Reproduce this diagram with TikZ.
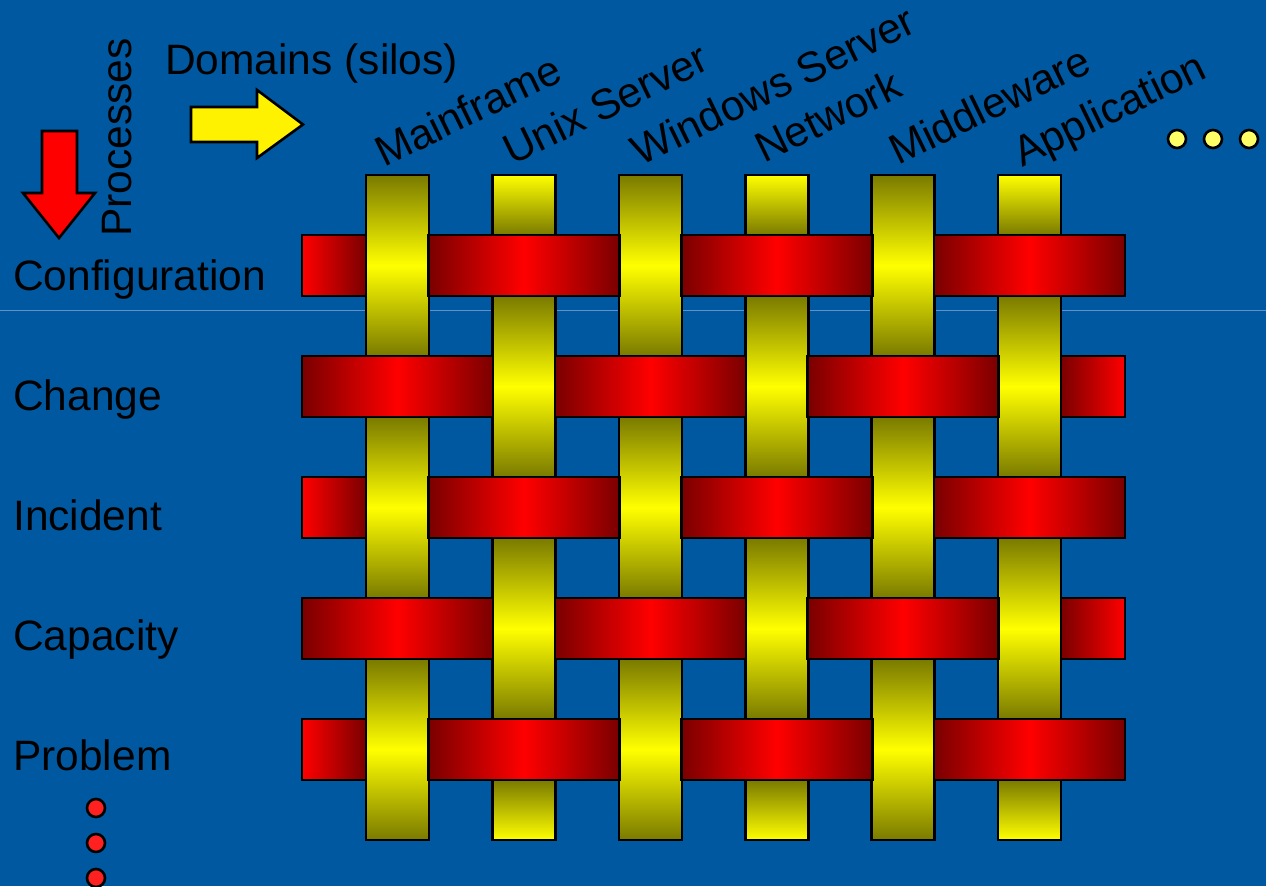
\documentclass[tikz,border=0pt]{standalone}
\usepackage{fontspec}
\setmainfont{Liberation Sans}
\usepackage{tikz}
\usetikzlibrary{positioning}

\definecolor{slidebg}{RGB}{0,88,160}
\definecolor{hairline}{RGB}{95,145,200}
\definecolor{darkred}{RGB}{122,0,0}
\definecolor{darkyel}{RGB}{122,122,0}
\definecolor{dotyel}{RGB}{255,255,102}
\definecolor{dotred}{RGB}{255,32,32}

\begin{document}
\begin{tikzpicture}[
    x=1pt, y=-1pt,
    lbl/.style={font=\fontsize{42.5}{48}\selectfont, text=black, inner sep=0pt},
    rowlbl/.style={lbl, anchor=base west},
    collbl/.style={lbl, anchor=base west, rotate=26},
    piece/.style={draw=black, line width=2.6pt},
    redfull/.style={piece, left color=darkred, right color=darkred, middle color=red},
    redin/.style={piece, left color=red, right color=darkred},
    redout/.style={piece, left color=darkred, right color=red},
    yelfull/.style={piece, top color=darkyel, bottom color=darkyel, middle color=yellow},
    yeltop/.style={piece, top color=yellow, bottom color=darkyel},
    yelbot/.style={piece, top color=darkyel, bottom color=yellow},
    bigarrow/.style={draw=black, line width=2.6pt},
    dotmark/.style={circle, draw=black, line width=2.6pt, minimum size=18pt, inner sep=0pt}
]
    % === BACKGROUND ===
    \fill[slidebg] (0,0) rectangle (1266,886);
    \useasboundingbox (0,0) rectangle (1266,886);
    \draw[hairline, line width=1pt] (0,310) -- (1266,310);

    % === HEADINGS ===
    \node[lbl, anchor=base west] (domains) at (165,74) {Domains (silos)};
    \node[lbl, anchor=base west, rotate=90] (processes) at (131,237) {Processes};
    \draw[bigarrow, fill=yellow] (191,107) -- (257,107) -- (257,90) -- (303,124.5)
        -- (257,158) -- (257,142) -- (191,142) -- cycle;
    \draw[bigarrow, fill=red] (42,131) -- (77,131) -- (77,193) -- (95,193)
        -- (59,238) -- (23,193) -- (42,193) -- cycle;

    % === DOMAINS ===
    \node[collbl] (mainframe) at (384,168) {Mainframe};
    \node[collbl] (unix) at (512,166) {Unix Server};
    \node[collbl] (windows) at (640,167) {Windows Server};
    \node[collbl] (network) at (764,164) {Network};
    \node[collbl] (middleware) at (898,166) {Middleware};
    \node[collbl] (application) at (1022,168) {Application};
    \node[dotmark, fill=dotyel] (more1) at (1177,139) {};
    \node[dotmark, fill=dotyel] (more2) at (1213,139) {};
    \node[dotmark, fill=dotyel] (more3) at (1249,139) {};

    % === PROCESSES ===
    \node[rowlbl] (config) at (13,290) {Configuration};
    \node[rowlbl] (change) at (13,410) {Change};
    \node[rowlbl] (incident) at (13,530) {Incident};
    \node[rowlbl] (capacity) at (13,650) {Capacity};
    \node[rowlbl] (problem) at (13,770) {Problem};
    \node[dotmark, fill=dotred] (next1) at (96,808) {};
    \node[dotmark, fill=dotred] (next2) at (96,843) {};
    \node[dotmark, fill=dotred] (next3) at (96,878) {};

    % === WEAVE: yellow threads ===
    \foreach \j in {0,...,5} {
        \pgfmathsetmacro\cx{397.5+126.4*\j}
        \foreach \i in {0,...,4} {
            \pgfmathsetmacro\cy{265.5+121*\i}
            \pgfmathparse{int(mod(\i+\j,2))}
            \ifnum\pgfmathresult=0
                \draw[yelfull] (\cx-31.5,\cy-90.5) rectangle (\cx+31.5,\cy+90.5);
            \fi
        }
        \ifodd\j
            \draw[yeltop] (\cx-31.5,175) rectangle (\cx+31.5,235);
            \draw[yelbot] (\cx-31.5,780) rectangle (\cx+31.5,840);
        \fi
    }

    % === WEAVE: red threads ===
    \foreach \i in {0,...,4} {
        \pgfmathsetmacro\cy{265.5+121*\i}
        \foreach \j in {0,...,5} {
            \pgfmathsetmacro\cx{397.5+126.4*\j}
            \pgfmathparse{int(mod(\i+\j,2))}
            \ifnum\pgfmathresult=1
                \draw[redfull] (\cx-95.5,\cy-30.5) rectangle (\cx+95.5,\cy+30.5);
            \fi
        }
        \ifodd\i
            \draw[redout] (1061,\cy-30.5) rectangle (1125,\cy+30.5);
        \else
            \draw[redin] (302,\cy-30.5) rectangle (366,\cy+30.5);
        \fi
    }
\end{tikzpicture}
\end{document}
